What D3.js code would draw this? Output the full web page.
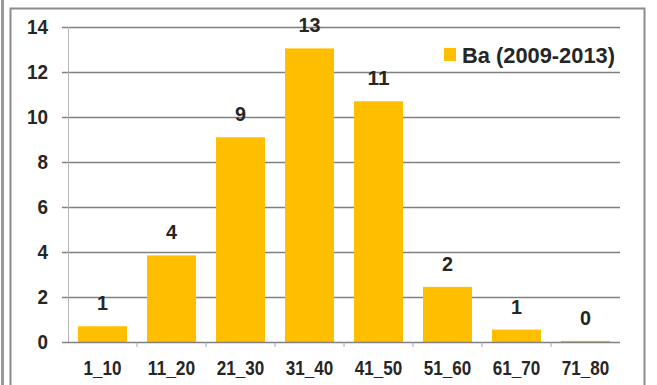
<!DOCTYPE html>
<html>
<head>
<meta charset="utf-8">
<style>
body { margin: 0; background: #fff; }
text { font-family: "Liberation Sans", Arial, sans-serif; fill: #262626; }
</style>
</head>
<body>
<script src="https://cdn.jsdelivr.net/npm/d3@7"></script>
<script>
// categories, bar heights as drawn, and the labels printed above the bars
var categories = ["1_10", "11_20", "21_30", "31_40", "41_50", "51_60", "61_70", "71_80"];
var heights = [0.7, 3.85, 9.1, 13.05, 10.7, 2.45, 0.55, 0.05];
var labels = ["1", "4", "9", "13", "11", "2", "1", "0"];
var yTicks = [0, 2, 4, 6, 8, 10, 12, 14];
var seriesName = "Ba (2009-2013)";

var width = 657, height = 385;
var margin = {left: 68, right: 37, top: 27, bottom: 43};

var svg = d3.select("body").append("svg")
    .attr("width", width)
    .attr("height", height);

// narrow text, like the squeezed picture
function narrow(sel, charW) {
  sel.attr("lengthAdjust", "spacingAndGlyphs")
     .attr("textLength", function() { return this.textContent.length * charW; });
}

// chart frame
svg.append("rect")
    .attr("x", 1).attr("y", -5)
    .attr("width", 3).attr("height", 400)
    .attr("fill", "#999");
svg.append("rect")
    .attr("x", 10.5).attr("y", 8.5)
    .attr("width", 634).attr("height", 385)
    .attr("fill", "#fff")
    .attr("stroke", "#8c8c8c")
    .attr("stroke-width", 2);

var x = d3.scaleBand()
    .domain(categories)
    .range([margin.left, width - margin.right])
    .paddingInner(0.29)
    .paddingOuter(0.145);

var y = d3.scaleLinear()
    .domain([0, 14])
    .range([height - margin.bottom, margin.top]);

// gridlines
svg.append("g")
  .selectAll("line")
  .data(yTicks.filter(function(d) { return d > 0; }))
  .enter().append("line")
    .attr("x1", margin.left - 6)
    .attr("x2", width - margin.right)
    .attr("y1", function(d) { return Math.round(y(d)) + 0.5; })
    .attr("y2", function(d) { return Math.round(y(d)) + 0.5; })
    .attr("stroke", "#808080")
    .attr("stroke-width", 1.3);

// y axis line
svg.append("line")
    .attr("x1", margin.left + 0.5).attr("x2", margin.left + 0.5)
    .attr("y1", y(14)).attr("y2", y(0))
    .attr("stroke", "#b5b5b5");

// y tick labels
svg.append("g")
  .selectAll("text")
  .data(yTicks)
  .enter().append("text")
    .attr("x", 48)
    .attr("y", function(d) { return y(d); })
    .attr("dy", "0.36em")
    .attr("text-anchor", "end")
    .style("font-size", "20px")
    .style("font-weight", "bold")
    .text(function(d) { return d; })
    .call(narrow, 10.5);

// bars
svg.append("g")
  .selectAll("rect")
  .data(heights)
  .enter().append("rect")
    .attr("x", function(d, i) { return x(categories[i]); })
    .attr("y", function(d) { return y(d); })
    .attr("width", x.bandwidth())
    .attr("height", function(d) { return y(0) - y(d); })
    .attr("fill", "#ffbf00");

// x axis line and ticks between categories
svg.append("line")
    .attr("x1", margin.left - 6).attr("x2", width - margin.right)
    .attr("y1", Math.round(y(0)) + 0.5).attr("y2", Math.round(y(0)) + 0.5)
    .attr("stroke", "#808080")
    .attr("stroke-width", 1.3);

svg.append("g")
  .selectAll("line")
  .data(d3.range(1, categories.length))
  .enter().append("line")
    .attr("x1", function(i) { return x(categories[i]) - x.step() * x.paddingInner() / 2; })
    .attr("x2", function(i) { return x(categories[i]) - x.step() * x.paddingInner() / 2; })
    .attr("y1", y(0))
    .attr("y2", y(0) + 5)
    .attr("stroke", "#9aa0c0");

// x labels
svg.append("g")
  .selectAll("text")
  .data(categories)
  .enter().append("text")
    .attr("x", function(d) { return x(d) + x.bandwidth() / 2; })
    .attr("y", 375)
    .attr("text-anchor", "middle")
    .style("font-size", "20px")
    .style("font-weight", "bold")
    .text(function(d) { return d; })
    .call(narrow, 9.5);

// value labels
svg.append("g")
  .selectAll("text")
  .data(heights)
  .enter().append("text")
    .attr("x", function(d, i) { return x(categories[i]) + x.bandwidth() / 2; })
    .attr("y", function(d) { return y(d) - 16; })
    .attr("text-anchor", "middle")
    .style("font-size", "21px")
    .style("font-weight", "bold")
    .text(function(d, i) { return labels[i]; })
    .call(narrow, 11);

// legend
var legend = svg.append("g").attr("transform", "translate(444,48)");
legend.append("rect")
    .attr("width", 12).attr("height", 13)
    .attr("fill", "#ffbf00");
legend.append("text")
    .attr("x", 18)
    .attr("y", 15)
    .style("font-size", "22px")
    .style("font-weight", "bold")
    .attr("lengthAdjust", "spacingAndGlyphs")
    .attr("textLength", 153)
    .text(seriesName);
</script>
</body>
</html>
